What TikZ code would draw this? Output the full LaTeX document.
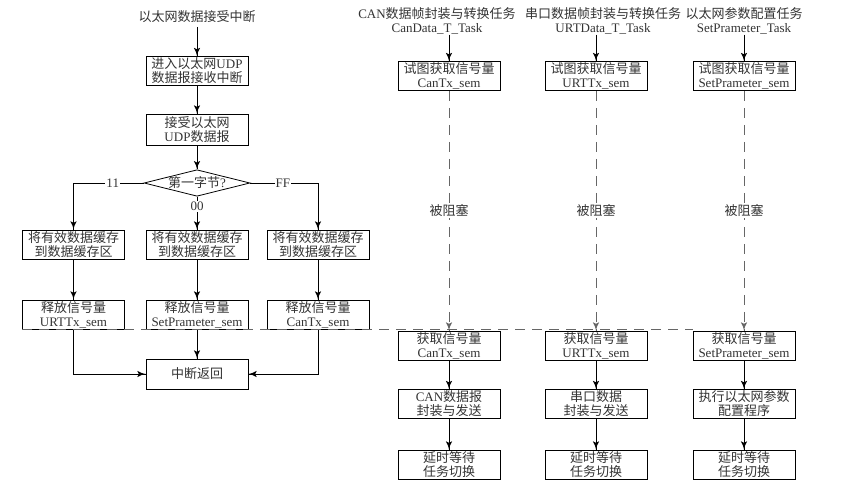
\documentclass[tikz,border=0pt]{standalone}
\usepackage{fontspec}
\setmainfont{Liberation Serif}
\newfontfamily\cjk{Noto Sans CJK SC}
\usetikzlibrary{arrows}
\usetikzlibrary{decorations.markings}
\usetikzlibrary{shapes.geometric}
\newcommand{\zh}[1]{{\cjk #1}}
\tikzset{arr/.style = {decoration={markings,
                                   mark=at position 1 with {\arrow[scale=1.6]{latex'}}},
                       postaction={decorate}}}
\tikzset{box/.style = {draw, minimum width=102, minimum height=29, inner sep=0, align=center}}
\tikzset{dashline/.style = {draw=black!60, dash pattern=on 10pt off 7pt}}
\tikzset{lbl/.style = {fill=white, inner sep=1pt}}

\begin{document}
\begin{tikzpicture}[x=1pt, y=-1pt, line width=0.8pt, font=\fontsize{13}{14}\selectfont, text=black!80]
    \useasboundingbox (0, 0) rectangle (844, 487);

    % ethernet interrupt
    \node (eth) at (197, 17) {\zh{以太网数据接受中断}};
    \node [box] (enter) at (197, 71) {\zh{进入以太网}UDP\\\zh{数据报接收中断}};
    \node [box, minimum height=31] (recv) at (197, 129.5) {\zh{接受以太网}\\UDP\zh{数据报}};
    \node [draw, diamond, aspect=4, inner sep=0] (byte) at (197, 183) {\zh{第一字节}?};
    \node [box] (save1) at (73.5, 244.5) {\zh{将有效数据缓存}\\\zh{到数据缓存区}};
    \node [box] (save2) at (197, 244.5) {\zh{将有效数据缓存}\\\zh{到数据缓存区}};
    \node [box] (save3) at (318, 244.5) {\zh{将有效数据缓存}\\\zh{到数据缓存区}};
    \node [box] (rel1) at (73.5, 314.5) {\zh{释放信号量}\\URTTx\_sem};
    \node [box] (rel2) at (197, 314.5) {\zh{释放信号量}\\SetPrameter\_sem};
    \node [box] (rel3) at (318, 314.5) {\zh{释放信号量}\\CanTx\_sem};
    \node [box, minimum height=30] (ret) at (197, 374) {\zh{中断返回}};

    \draw [arr] (eth) -- (enter);
    \draw [arr] (enter) -- (recv);
    \draw [arr] (recv) -- (byte);
    \draw [arr] (byte.west) -| (save1) node [pos=0.22, lbl] {11};
    \draw [arr] (byte.south) -- (save2) node [pos=0.3, lbl] {00};
    \draw [arr] (byte.east) -| (save3) node [pos=0.24, lbl] {FF};
    \draw [arr] (save1) -- (rel1);
    \draw [arr] (save2) -- (rel2);
    \draw [arr] (save3) -- (rel3);
    \draw [arr] (rel1.south) |- (ret.west);
    \draw [arr] (rel2) -- (ret);
    \draw [arr] (rel3.south) |- (ret.east);

    % tasks
    \node [inner sep=0, align=center] (task1) at (437, 21) {CAN\zh{数据帧封装与转换任务}\\CanData\_T\_Task};
    \node [inner sep=0, align=center] (task2) at (603, 21) {\zh{串口数据帧封装与转换任务}\\URTData\_T\_Task};
    \node [inner sep=0, align=center] (task3) at (744, 21) {\zh{以太网参数配置任务}\\SetPrameter\_Task};

    \node [box] (try1) at (449, 76) {\zh{试图获取信号量}\\CanTx\_sem};
    \node [box] (try2) at (596, 76) {\zh{试图获取信号量}\\URTTx\_sem};
    \node [box] (try3) at (744, 76) {\zh{试图获取信号量}\\SetPrameter\_sem};
    \node [box] (get1) at (449, 345.5) {\zh{获取信号量}\\CanTx\_sem};
    \node [box] (get2) at (596, 345.5) {\zh{获取信号量}\\URTTx\_sem};
    \node [box] (get3) at (744, 345.5) {\zh{获取信号量}\\SetPrameter\_sem};
    \node [box] (send1) at (449, 404) {CAN\zh{数据报}\\\zh{封装与发送}};
    \node [box] (send2) at (596, 404) {\zh{串口数据}\\\zh{封装与发送}};
    \node [box] (send3) at (744, 404) {\zh{执行以太网参数}\\\zh{配置程序}};
    \node [box] (wait1) at (449, 464.5) {\zh{延时等待}\\\zh{任务切换}};
    \node [box] (wait2) at (596, 464.5) {\zh{延时等待}\\\zh{任务切换}};
    \node [box] (wait3) at (744, 464.5) {\zh{延时等待}\\\zh{任务切换}};

    \draw [arr] (task1.south -| try1) -- (try1);
    \draw [arr] (task2.south -| try2) -- (try2);
    \draw [arr] (task3.south -| try3) -- (try3);
    \draw [dashline, arr] (try1) -- node [lbl] {\zh{被阻塞}} (get1);
    \draw [dashline, arr] (try2) -- node [lbl] {\zh{被阻塞}} (get2);
    \draw [dashline, arr] (try3) -- node [lbl] {\zh{被阻塞}} (get3);
    \draw [arr] (get1) -- (send1);
    \draw [arr] (get2) -- (send2);
    \draw [arr] (get3) -- (send3);
    \draw [arr] (send1) -- (wait1);
    \draw [arr] (send2) -- (wait2);
    \draw [arr] (send3) -- (wait3);

    % semaphore release line
    \draw [dashline] (rel1.south west) -- (rel1.south west -| get3.west);
\end{tikzpicture}
\end{document}
